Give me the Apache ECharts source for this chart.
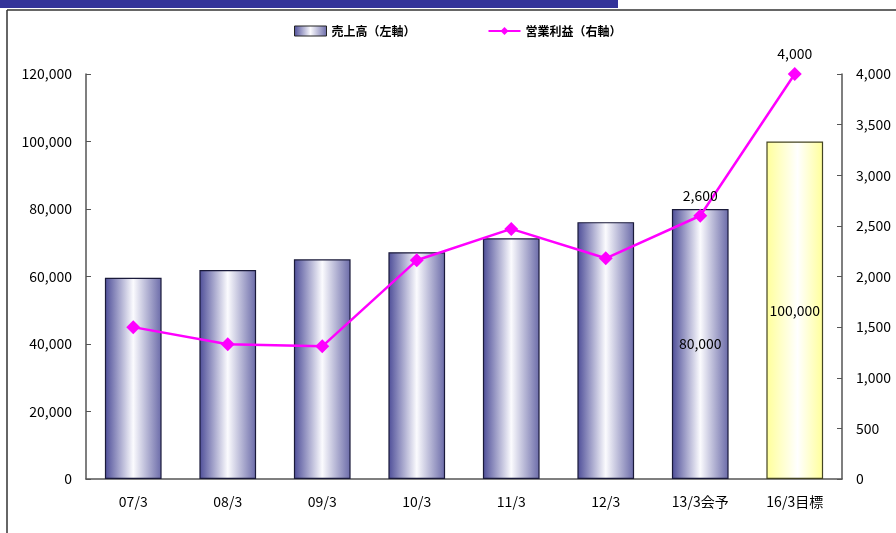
<!DOCTYPE html>
<html>
<head>
<meta charset="utf-8">
<script src="https://cdn.jsdelivr.net/npm/echarts@6/dist/echarts.min.js"></script>
<style>
  html, body { margin: 0; padding: 0; background: #fff; }
  #chart { width: 896px; height: 533px; }
</style>
</head>
<body>
<div id="chart"></div>
<script>
// Fiscal periods (March year-end)
const categories = ['07/3', '08/3', '09/3', '10/3', '11/3', '12/3', '13/3会予', '16/3目標'];
// Net sales (left axis, millions of yen)
const sales = [59600, 61900, 65100, 67200, 71300, 76100, 80000, 100000];
// Operating income (right axis)
const operatingIncome = [1500, 1330, 1310, 2160, 2470, 2180, 2600, 4000];
// Axis tick settings
const leftAxisMax = 120000, leftAxisStep = 20000;
const rightAxisMax = 4000, rightAxisStep = 500;

const FONT = '"Noto Sans CJK JP", "Noto Sans", sans-serif';
const fmt = v => Number(v).toLocaleString('en-US');

const blueBar = {
  type: 'linear', x: 0, y: 0, x2: 1, y2: 0,
  colorStops: [
    { offset: 0, color: '#4d4d98' },
    { offset: 0.5, color: '#fbfbfe' },
    { offset: 1, color: '#6a6aa8' }
  ]
};
const yellowBar = {
  type: 'linear', x: 0, y: 0, x2: 1, y2: 0,
  colorStops: [
    { offset: 0, color: '#ffff99' },
    { offset: 0.55, color: '#ffffff' },
    { offset: 1, color: '#ffff99' }
  ]
};

const lastTwo = i => i >= categories.length - 2;

const chart = echarts.init(document.getElementById('chart'), null, { renderer: 'canvas' });
chart.setOption({
  animation: false,
  backgroundColor: '#ffffff',
  textStyle: { fontFamily: FONT },
  graphic: [
    { type: 'rect', shape: { x: 0, y: 0, width: 618, height: 8 }, style: { fill: '#333399' } },
    { type: 'line', shape: { x1: 7, y1: 10, x2: 896, y2: 10 }, style: { stroke: '#333', lineWidth: 1.5 } },
    { type: 'line', shape: { x1: 7, y1: 10, x2: 7, y2: 533 }, style: { stroke: '#333', lineWidth: 1.5 } }
  ],
  legend: {
    left: 289, top: 20,
    itemGap: 72,
    itemWidth: 32, itemHeight: 10,
    textStyle: { fontFamily: FONT, fontSize: 12, color: '#000', fontWeight: 'bold' },
    data: [
      { name: '売上高（左軸）', icon: 'rect', itemStyle: { color: blueBar, borderColor: '#222', borderWidth: 1 } },
      { name: '営業利益（右軸）' }
    ]
  },
  grid: { left: 86, right: 54, top: 74, bottom: 54 },
  xAxis: {
    type: 'category',
    data: categories,
    axisLine: { lineStyle: { color: '#555', width: 1.5 } },
    axisTick: { inside: true, length: 6, alignWithLabel: false, lineStyle: { color: '#555' } },
    axisLabel: { color: '#000', fontSize: 14, margin: 16, fontFamily: FONT }
  },
  yAxis: [
    {
      type: 'value', min: 0, max: leftAxisMax, interval: leftAxisStep,
      axisLine: { show: true, lineStyle: { color: '#555', width: 1.5 } },
      axisTick: { show: true, inside: true, length: 5, lineStyle: { color: '#555' } },
      splitLine: { show: false },
      axisLabel: { color: '#000', fontSize: 14, margin: 14, formatter: fmt, fontFamily: FONT }
    },
    {
      type: 'value', min: 0, max: rightAxisMax, interval: rightAxisStep,
      position: 'right',
      axisLine: { show: true, lineStyle: { color: '#555', width: 1.5 } },
      axisTick: { show: true, inside: true, length: 5, lineStyle: { color: '#555' } },
      splitLine: { show: false },
      axisLabel: { color: '#000', fontSize: 14, margin: 14, formatter: fmt, fontFamily: FONT }
    }
  ],
  series: [
    {
      name: '売上高（左軸）',
      type: 'bar',
      yAxisIndex: 0,
      barWidth: '60%',
      data: sales.map((v, i) => ({
        value: v,
        itemStyle: {
          color: i === sales.length - 1 ? yellowBar : blueBar,
          borderColor: i === sales.length - 1 ? '#444422' : '#1a1a3a',
          borderWidth: 1.2
        },
        label: {
          show: lastTwo(i),
          position: 'inside',
          color: '#000',
          fontSize: 14,
          fontFamily: FONT,
          formatter: p => fmt(p.value)
        }
      })),
      z: 2
    },
    {
      name: '営業利益（右軸）',
      type: 'line',
      yAxisIndex: 1,
      symbol: 'diamond',
      symbolSize: 14,
      lineStyle: { color: '#ff00ff', width: 2.5 },
      itemStyle: { color: '#ff00ff' },
      data: operatingIncome.map((v, i) => ({
        value: v,
        label: {
          show: lastTwo(i),
          position: 'top',
          distance: 6,
          color: '#000',
          fontSize: 14,
          fontFamily: FONT,
          formatter: p => fmt(p.value)
        }
      })),
      z: 3
    }
  ]
});
</script>
</body>
</html>
